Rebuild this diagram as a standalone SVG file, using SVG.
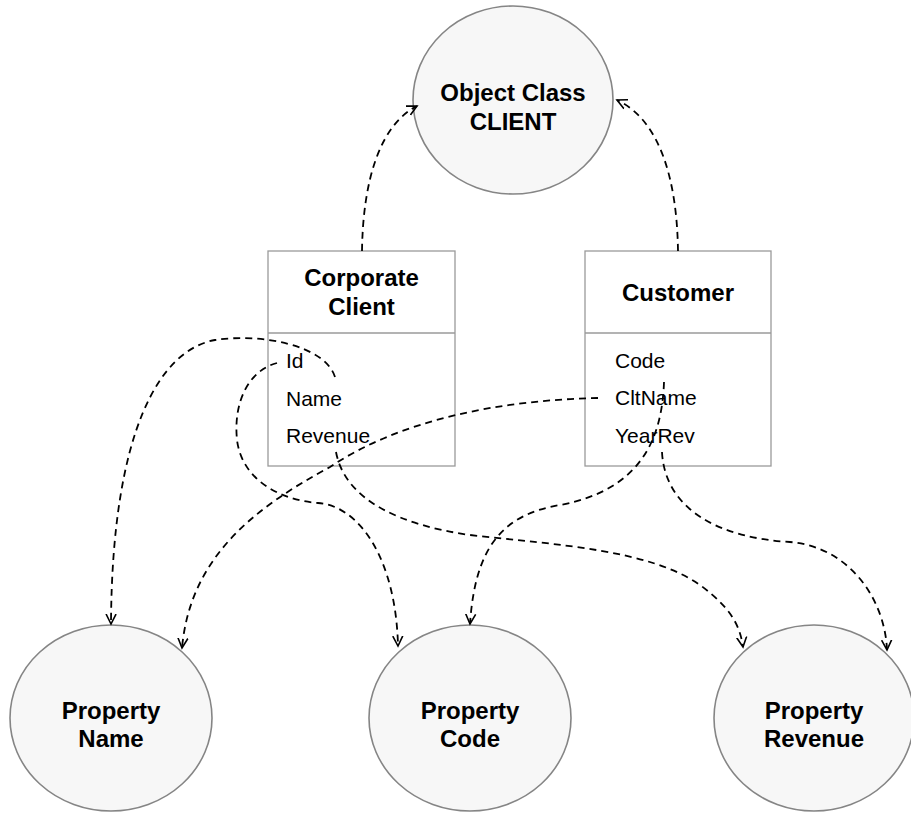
<svg xmlns="http://www.w3.org/2000/svg" width="911" height="815" viewBox="0 0 911 815">
<style>
.ell{fill:#f7f7f7;stroke:#858585;stroke-width:1.6}
.box{fill:#fff;stroke:#9a9a9a;stroke-width:1.3}
.t{font-family:"Liberation Sans",Arial,sans-serif;font-weight:bold;font-size:24px;fill:#000;text-anchor:middle}
.a{font-family:"Liberation Sans",Arial,sans-serif;font-size:21px;fill:#000}
.c{fill:none;stroke:#000;stroke-width:1.8;stroke-dasharray:7,5;marker-end:url(#arr)}
</style>
<defs>
<marker id="arr" markerWidth="12" markerHeight="12" refX="10" refY="5" orient="auto" markerUnits="userSpaceOnUse" viewBox="0 0 12 10">
<path d="M0,0 L10,5 L0,10" fill="none" stroke="#000" stroke-width="1.6"/>
</marker>
</defs>
<g id="obj-client">
<ellipse class="ell" cx="513" cy="100" rx="100" ry="94"/>
<text class="t" x="513" y="101">Object Class</text>
<text class="t" x="513" y="130">CLIENT</text>
</g>
<g id="corporate-client">
<rect class="box" x="268" y="251" width="187" height="215"/>
<line class="box" x1="268" y1="333" x2="455" y2="333"/>
<text class="t" x="361.5" y="286">Corporate</text>
<text class="t" x="361.5" y="315">Client</text>
<text class="a" x="286" y="368">Id</text>
<text class="a" x="286" y="406">Name</text>
<text class="a" x="286" y="443">Revenue</text>
</g>
<g id="customer">
<rect class="box" x="585" y="251" width="186" height="215"/>
<line class="box" x1="585" y1="333" x2="771" y2="333"/>
<text class="t" x="678" y="301">Customer</text>
<text class="a" x="615" y="368">Code</text>
<text class="a" x="615" y="405">CltName</text>
<text class="a" x="615" y="443">YearRev</text>
</g>
<g id="prop-name">
<ellipse class="ell" cx="111" cy="718" rx="101" ry="93"/>
<text class="t" x="111" y="719">Property</text>
<text class="t" x="111" y="747">Name</text>
</g>
<g id="prop-code">
<ellipse class="ell" cx="470" cy="718" rx="101" ry="93"/>
<text class="t" x="470" y="719">Property</text>
<text class="t" x="470" y="747">Code</text>
</g>
<g id="prop-revenue">
<ellipse class="ell" cx="814" cy="718" rx="100" ry="93"/>
<text class="t" x="814" y="719">Property</text>
<text class="t" x="814" y="747">Revenue</text>
</g>
<g id="connectors">
<path class="c" d="M362,251 C363,180 380,125 417,106"/>
<path class="c" d="M678,251 C677,180 660,120 617,100"/>
<path class="c" d="M335,377 C325,345 260,333 215,340 C160,350 112,430 111,624"/>
<path class="c" d="M277,363 C250,370 233,400 237,440 C242,480 280,500 318,503 C360,506 396,560 398,646"/>
<path class="c" d="M336,452 C345,500 400,525 470,535 C560,545 650,550 700,585 C730,607 740,625 743,647"/>
<path class="c" d="M598,398 C500,400 400,420 330,467 C250,510 190,560 182,648"/>
<path class="c" d="M664,382 C662,440 640,490 560,505 C500,515 475,550 470,624"/>
<path class="c" d="M662,452 C665,510 720,538 790,542 C850,547 885,600 887,650"/>
</g>
</svg>
